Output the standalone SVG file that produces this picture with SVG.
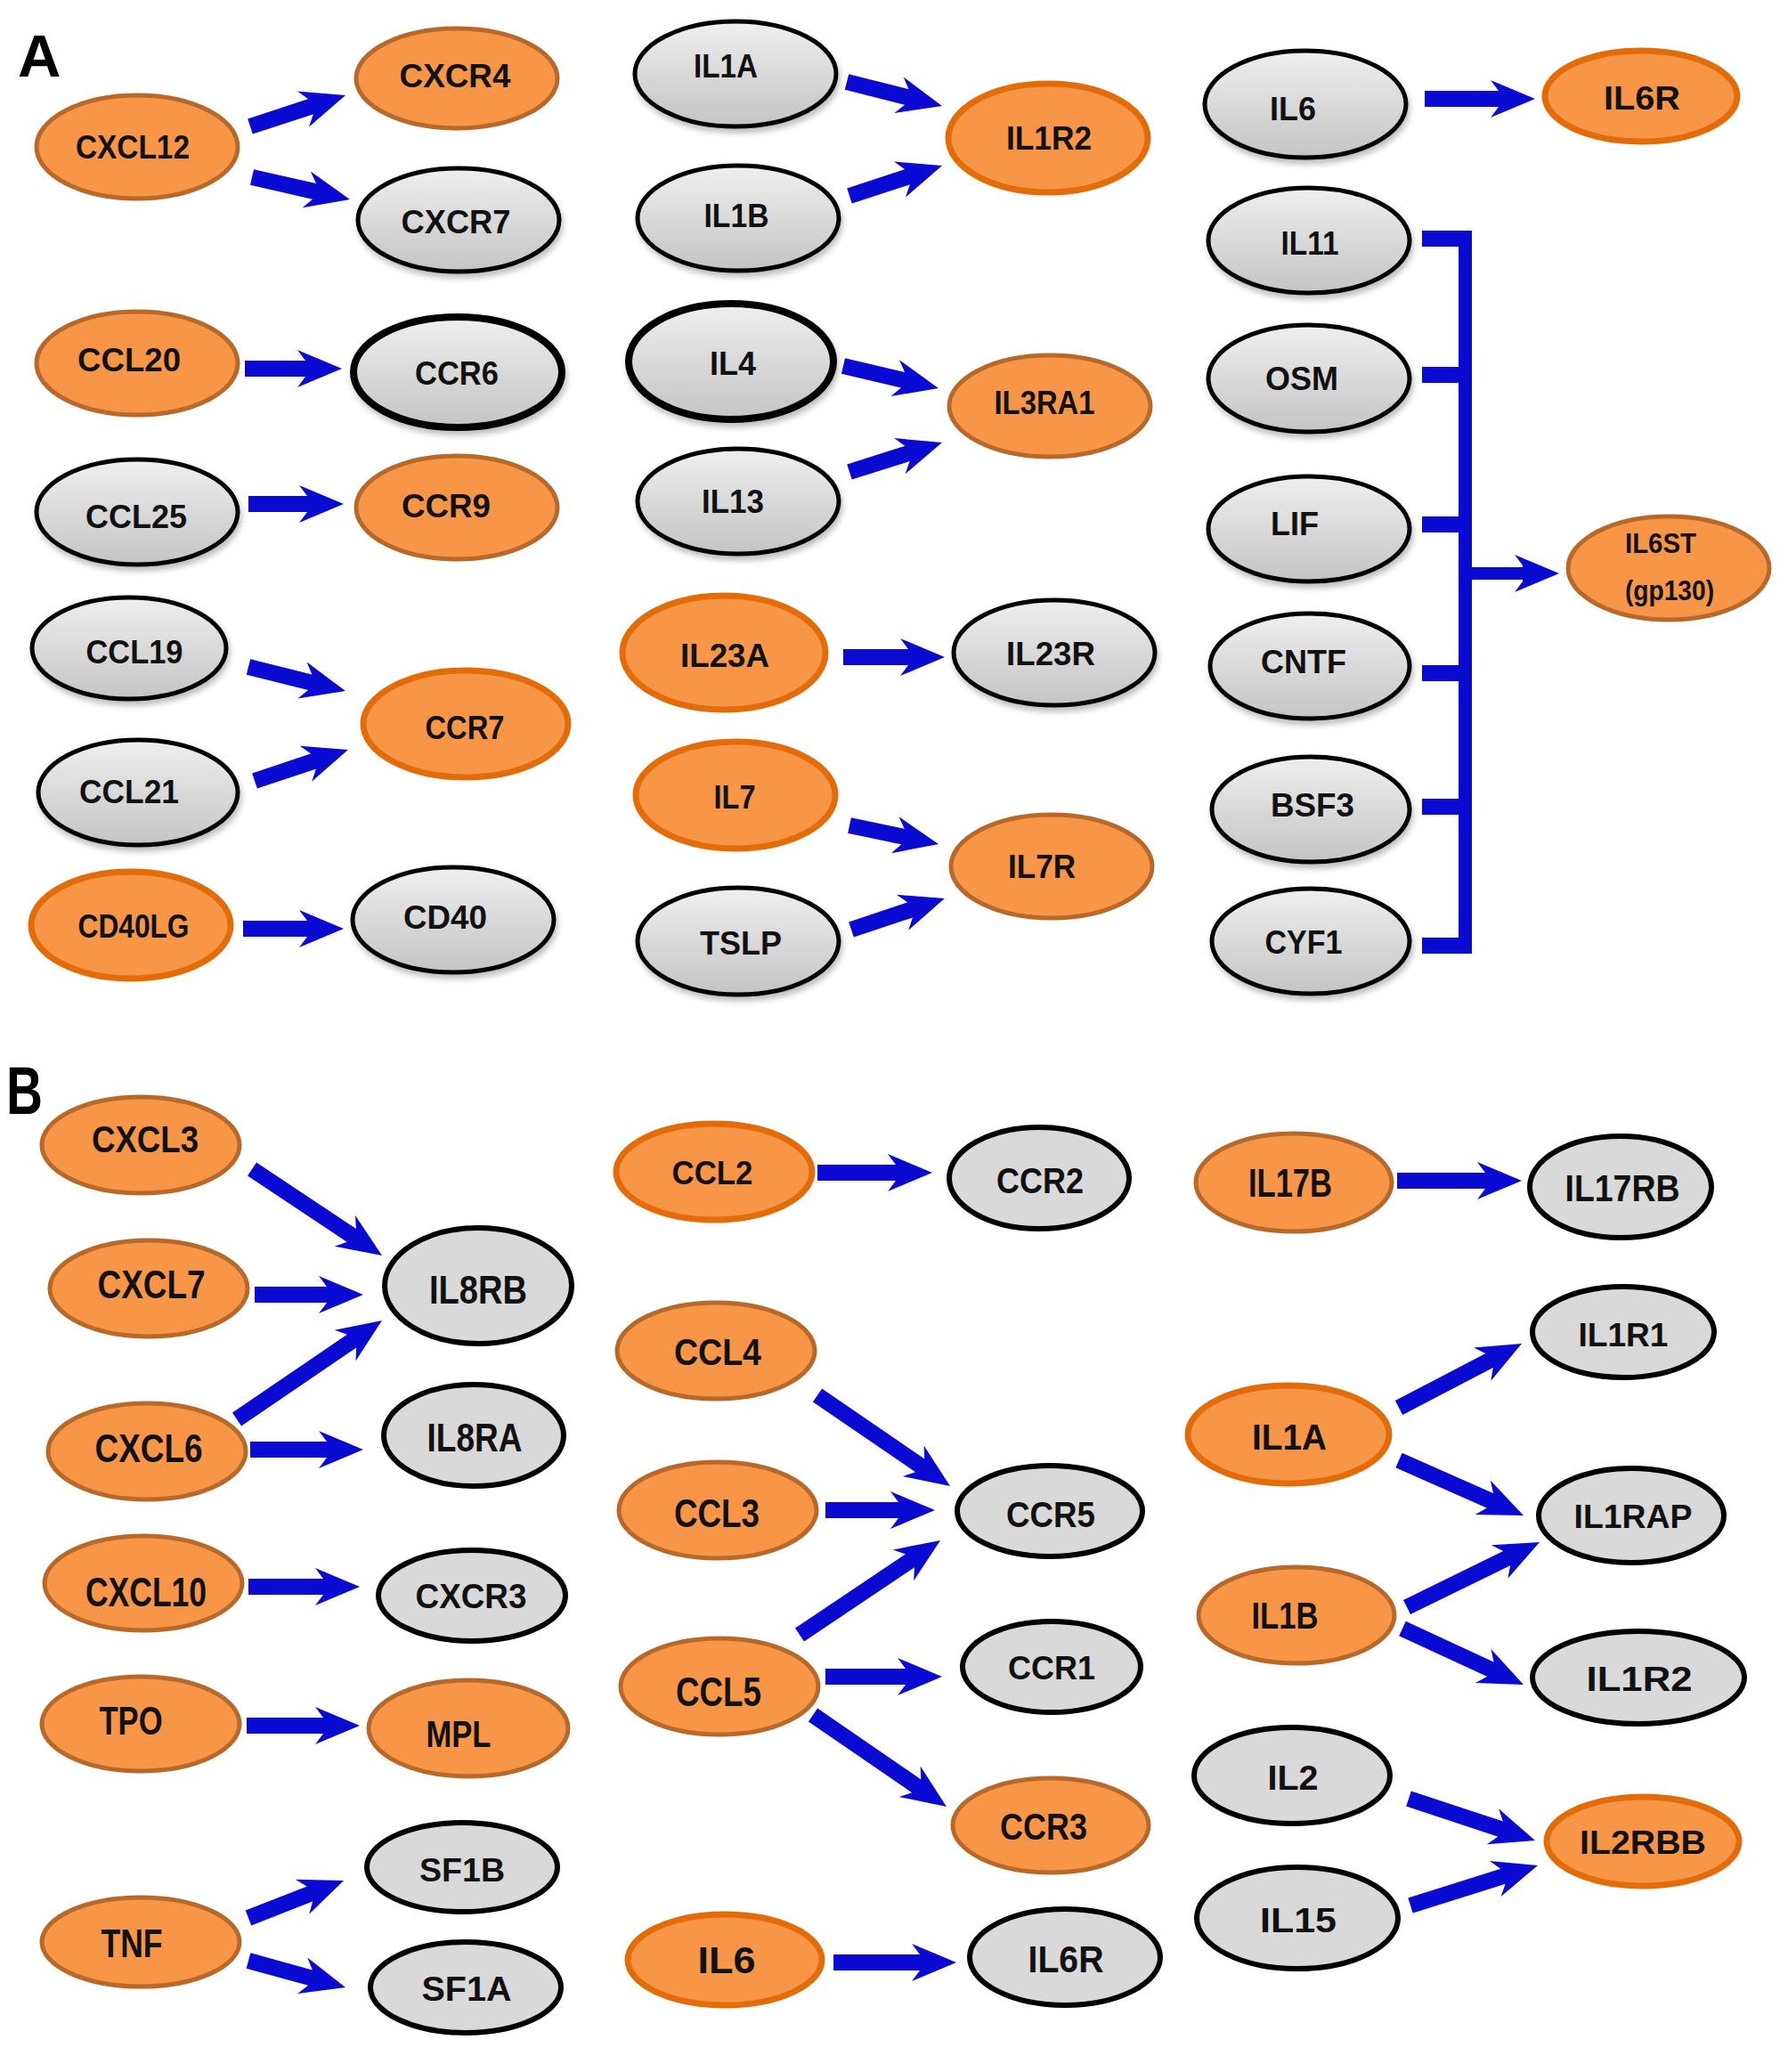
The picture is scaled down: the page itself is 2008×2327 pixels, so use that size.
<svg xmlns="http://www.w3.org/2000/svg" width="2008" height="2327" viewBox="0 0 2008 2327">
<defs>
<linearGradient id="gg" x1="0" y1="0" x2="0" y2="1"><stop offset="0" stop-color="#EFEFEF"/><stop offset="1" stop-color="#C4C4C4"/></linearGradient>
<filter id="sh" x="-20%" y="-20%" width="140%" height="150%"><feDropShadow dx="2" dy="5" stdDeviation="3" flood-color="#000" flood-opacity="0.25"/></filter>
<marker id="ah" markerUnits="userSpaceOnUse" orient="auto" refX="0" refY="0" markerWidth="60" markerHeight="50" viewBox="-12 -25 60 50" overflow="visible"><path d="M-10,-21 L40,0 L-10,21 L-1,9 L-1,-9 Z" fill="#0A0AD2"/></marker>
<style>
.o{fill:#F79646;stroke:#B8692A;stroke-width:5}
.ob{fill:#F79646;stroke:#E36C09;stroke-width:7}
.g{fill:url(#gg);stroke:#000;stroke-width:5;filter:url(#sh)}
.gt{stroke-width:8}
.gb{fill:#D9D9D9;stroke:#000;stroke-width:6}
text{font-family:"Liberation Sans",Arial,sans-serif;font-weight:bold;fill:#111;text-anchor:middle}
.pa{font-size:37px}
.pb{font-size:42px}
.lab{font-family:"Liberation Sans",Arial,sans-serif;font-weight:bold;fill:#000;text-anchor:start}
.a{stroke:#0A0AD2;stroke-width:18;fill:none;marker-end:url(#ah)}
.br{fill:#0A0AD2}
</style>
</defs>
<rect width="2008" height="2327" fill="#fff"/>
<text class="lab" x="20" y="86" font-size="67">A</text>
<text class="lab" x="7" y="1251" font-size="76" textLength="41" lengthAdjust="spacingAndGlyphs">B</text>

<g id="connectors">
<line class="a" x1="281" y1="142" x2="350" y2="119.4"/>
<line class="a" x1="283" y1="199" x2="354" y2="215.1"/>
<line class="a" x1="275" y1="414" x2="344" y2="414"/>
<line class="a" x1="279" y1="566" x2="346" y2="566"/>
<line class="a" x1="279" y1="749" x2="349.2" y2="766.4"/>
<line class="a" x1="286" y1="877" x2="353" y2="854.6"/>
<line class="a" x1="273" y1="1043" x2="346" y2="1043"/>
<line class="a" x1="951" y1="92" x2="1019.2" y2="109.2"/>
<line class="a" x1="954" y1="220" x2="1020" y2="198.4"/>
<line class="a" x1="947" y1="411" x2="1015" y2="426.9"/>
<line class="a" x1="954" y1="530" x2="1019.9" y2="509.1"/>
<line class="a" x1="947" y1="738" x2="1021" y2="738"/>
<line class="a" x1="954" y1="927" x2="1014.9" y2="939.8"/>
<line class="a" x1="956" y1="1044" x2="1023" y2="1021.6"/>
<line class="a" x1="1600" y1="111" x2="1684" y2="111"/>
<g id="bracket">
<rect class="br" x="1638" y="259" width="15" height="812"/>
<rect class="br" x="1597" y="259" width="56" height="18"/>
<rect class="br" x="1597" y="412" width="56" height="18"/>
<rect class="br" x="1597" y="580" width="56" height="18"/>
<rect class="br" x="1597" y="747" width="56" height="18"/>
<rect class="br" x="1597" y="897" width="56" height="18"/>
<rect class="br" x="1597" y="1053" width="56" height="18"/>
<line class="a" style="stroke-width:14" x1="1650" y1="644" x2="1711" y2="644"/>
</g>
<line class="a" x1="283" y1="1313" x2="395.7" y2="1387.9"/>
<line class="a" x1="286" y1="1454" x2="368" y2="1454"/>
<line class="a" x1="266" y1="1594" x2="395.9" y2="1505.5"/>
<line class="a" x1="281" y1="1628" x2="368" y2="1628"/>
<line class="a" x1="279" y1="1782" x2="364" y2="1782"/>
<line class="a" x1="277" y1="1938" x2="364" y2="1938"/>
<line class="a" x1="279" y1="2154" x2="348.8" y2="2126.6"/>
<line class="a" x1="279" y1="2202" x2="349.4" y2="2221.4"/>
<line class="a" x1="918" y1="1317" x2="1007" y2="1317"/>
<line class="a" x1="918" y1="1567" x2="1034" y2="1646.4"/>
<line class="a" x1="927" y1="1696" x2="1010" y2="1696"/>
<line class="a" x1="898" y1="1836" x2="1022.8" y2="1752.3"/>
<line class="a" x1="927" y1="1883" x2="1018" y2="1883"/>
<line class="a" x1="913" y1="1926" x2="1030" y2="2006.4"/>
<line class="a" x1="936" y1="2204" x2="1034" y2="2204"/>
<line class="a" x1="1569" y1="1326" x2="1669" y2="1326"/>
<line class="a" x1="1571" y1="1581" x2="1673.5" y2="1527.5"/>
<line class="a" x1="1571" y1="1640" x2="1674.4" y2="1685.8"/>
<line class="a" x1="1580" y1="1805" x2="1693.1" y2="1749.6"/>
<line class="a" x1="1575" y1="1829" x2="1674.7" y2="1875.2"/>
<line class="a" x1="1582" y1="2020" x2="1686" y2="2054.4"/>
<line class="a" x1="1584" y1="2140" x2="1688.8" y2="2107"/>
</g>

<g id="n-CXCL12"><ellipse class="o" cx="154" cy="165" rx="113" ry="58"/><text class="pa" font-size="35" x="149" y="178" textLength="128" lengthAdjust="spacingAndGlyphs">CXCL12</text></g>
<g id="n-CXCR4"><ellipse class="o" cx="513" cy="88" rx="113" ry="56"/><text class="pa" x="511" y="98" textLength="125" lengthAdjust="spacingAndGlyphs">CXCR4</text></g>
<g id="n-CXCR7"><ellipse class="g" cx="515" cy="247" rx="113" ry="58"/><text class="pa" x="512" y="262" textLength="123" lengthAdjust="spacingAndGlyphs">CXCR7</text></g>
<g id="n-CCL20"><ellipse class="o" cx="154" cy="408" rx="113" ry="58"/><text class="pa" font-size="35" x="145" y="417" textLength="116" lengthAdjust="spacingAndGlyphs">CCL20</text></g>
<g id="n-CCR6"><ellipse class="g gt" cx="514" cy="418" rx="117" ry="62"/><text class="pa" font-size="34" x="513" y="432" textLength="94" lengthAdjust="spacingAndGlyphs">CCR6</text></g>
<g id="n-CCL25"><ellipse class="g" cx="154" cy="575" rx="113" ry="59"/><text class="pa" x="153" y="593" textLength="114" lengthAdjust="spacingAndGlyphs">CCL25</text></g>
<g id="n-CCR9"><ellipse class="o" cx="513" cy="570" rx="113" ry="58"/><text class="pa" font-size="35" x="501" y="581" textLength="100" lengthAdjust="spacingAndGlyphs">CCR9</text></g>
<g id="n-CCL19"><ellipse class="g" cx="145" cy="728" rx="109" ry="57"/><text class="pa" x="151" y="745" textLength="109" lengthAdjust="spacingAndGlyphs">CCL19</text></g>
<g id="n-CCR7"><ellipse class="ob" cx="523" cy="813" rx="115" ry="60"/><text class="pa" x="522" y="830" textLength="89" lengthAdjust="spacingAndGlyphs">CCR7</text></g>
<g id="n-CCL21"><ellipse class="g" cx="155" cy="890" rx="112" ry="59"/><text class="pa" x="145" y="902" textLength="112" lengthAdjust="spacingAndGlyphs">CCL21</text></g>
<g id="n-CD40LG"><ellipse class="ob" cx="147" cy="1039" rx="112" ry="60"/><text class="pa" font-size="36" x="150" y="1053" textLength="125" lengthAdjust="spacingAndGlyphs">CD40LG</text></g>
<g id="n-CD40"><ellipse class="g" cx="509" cy="1033" rx="113" ry="59"/><text class="pa" x="500" y="1043" textLength="94" lengthAdjust="spacingAndGlyphs">CD40</text></g>
<g id="n-IL1A"><ellipse class="g" cx="826" cy="83" rx="113" ry="59"/><text class="pa" font-size="35" x="815" y="87" textLength="72" lengthAdjust="spacingAndGlyphs">IL1A</text></g>
<g id="n-IL1R2"><ellipse class="ob" cx="1177" cy="155" rx="112" ry="61"/><text class="pa" font-size="35" x="1178" y="168" textLength="96" lengthAdjust="spacingAndGlyphs">IL1R2</text></g>
<g id="n-IL1B"><ellipse class="g" cx="829" cy="245" rx="113" ry="59"/><text class="pa" font-size="35" x="827" y="255" textLength="73" lengthAdjust="spacingAndGlyphs">IL1B</text></g>
<g id="n-IL4"><ellipse class="g gt" cx="821" cy="406" rx="115" ry="65"/><text class="pa" x="823" y="421" textLength="52" lengthAdjust="spacingAndGlyphs">IL4</text></g>
<g id="n-IL3RA1"><ellipse class="o" cx="1179" cy="456" rx="113" ry="57"/><text class="pa" font-size="35" x="1173" y="465" textLength="113" lengthAdjust="spacingAndGlyphs">IL3RA1</text></g>
<g id="n-IL13"><ellipse class="g" cx="829" cy="563" rx="113" ry="59"/><text class="pa" x="823" y="576" textLength="70" lengthAdjust="spacingAndGlyphs">IL13</text></g>
<g id="n-IL23A"><ellipse class="ob" cx="813" cy="733" rx="114" ry="64"/><text class="pa" font-size="40" x="814" y="749" textLength="100" lengthAdjust="spacingAndGlyphs">IL23A</text></g>
<g id="n-IL23R"><ellipse class="g" cx="1184" cy="733" rx="113" ry="59"/><text class="pa" x="1180" y="747" textLength="100" lengthAdjust="spacingAndGlyphs">IL23R</text></g>
<g id="n-IL7"><ellipse class="ob" cx="826" cy="893" rx="112" ry="60"/><text class="pa" font-size="40" x="825" y="908" textLength="47" lengthAdjust="spacingAndGlyphs">IL7</text></g>
<g id="n-IL7R"><ellipse class="o" cx="1181" cy="973" rx="113" ry="58"/><text class="pa" font-size="35" x="1170" y="986" textLength="76" lengthAdjust="spacingAndGlyphs">IL7R</text></g>
<g id="n-TSLP"><ellipse class="g" cx="829" cy="1057" rx="113" ry="60"/><text class="pa" font-size="36" x="832" y="1072" textLength="92" lengthAdjust="spacingAndGlyphs">TSLP</text></g>
<g id="n-IL6-A"><ellipse class="g" cx="1466" cy="117" rx="113" ry="60"/><text class="pa" x="1452" y="135" textLength="52" lengthAdjust="spacingAndGlyphs">IL6</text></g>
<g id="n-IL6R-A"><ellipse class="ob" cx="1843" cy="108" rx="108" ry="51"/><text class="pa" x="1844" y="123" textLength="86" lengthAdjust="spacingAndGlyphs">IL6R</text></g>
<g id="n-IL11"><ellipse class="g" cx="1470" cy="270" rx="113" ry="59"/><text class="pa" x="1471" y="286" textLength="65" lengthAdjust="spacingAndGlyphs">IL11</text></g>
<g id="n-OSM"><ellipse class="g" cx="1470" cy="425" rx="113" ry="60"/><text class="pa" x="1462" y="438" textLength="82" lengthAdjust="spacingAndGlyphs">OSM</text></g>
<g id="n-LIF"><ellipse class="g" cx="1470" cy="594" rx="113" ry="59"/><text class="pa" x="1454" y="601" textLength="54" lengthAdjust="spacingAndGlyphs">LIF</text></g>
<g id="n-CNTF"><ellipse class="g" cx="1471" cy="748" rx="112" ry="59"/><text class="pa" x="1464" y="756" textLength="96" lengthAdjust="spacingAndGlyphs">CNTF</text></g>
<g id="n-BSF3"><ellipse class="g" cx="1472" cy="909" rx="111" ry="59"/><text class="pa" x="1474" y="917" textLength="94" lengthAdjust="spacingAndGlyphs">BSF3</text></g>
<g id="n-CYF1"><ellipse class="g" cx="1472" cy="1057" rx="111" ry="59"/><text class="pa" x="1464" y="1071" textLength="87" lengthAdjust="spacingAndGlyphs">CYF1</text></g>
<g id="n-IL6ST"><ellipse class="o" cx="1874" cy="638" rx="113" ry="58"/><text font-size="31" x="1865" y="621" textLength="80" lengthAdjust="spacingAndGlyphs">IL6ST</text><text font-size="31" x="1875" y="674" textLength="100" lengthAdjust="spacingAndGlyphs">(gp130)</text></g>

<g id="n-CXCL3"><ellipse class="o" cx="158" cy="1286" rx="111" ry="54"/><text font-size="43" x="163" y="1294" textLength="120" lengthAdjust="spacingAndGlyphs">CXCL3</text></g>
<g id="n-CXCL7"><ellipse class="o" cx="167" cy="1447" rx="111" ry="54"/><text font-size="45" x="170" y="1458" textLength="121" lengthAdjust="spacingAndGlyphs">CXCL7</text></g>
<g id="n-IL8RB"><ellipse class="gb" cx="537" cy="1444" rx="105" ry="65"/><text font-size="45" x="537" y="1464" textLength="110" lengthAdjust="spacingAndGlyphs">IL8RB</text></g>
<g id="n-CXCL6"><ellipse class="o" cx="165" cy="1630" rx="111" ry="54"/><text font-size="45" x="167" y="1642" textLength="121" lengthAdjust="spacingAndGlyphs">CXCL6</text></g>
<g id="n-IL8RA"><ellipse class="gb" cx="532" cy="1612" rx="101" ry="57"/><text font-size="45" x="533" y="1630" textLength="107" lengthAdjust="spacingAndGlyphs">IL8RA</text></g>
<g id="n-CXCL10"><ellipse class="o" cx="161" cy="1778" rx="111" ry="53"/><text font-size="47" x="164" y="1804" textLength="136" lengthAdjust="spacingAndGlyphs">CXCL10</text></g>
<g id="n-CXCR3"><ellipse class="gb" cx="530" cy="1792" rx="105" ry="51"/><text font-size="39" x="529" y="1806" textLength="125" lengthAdjust="spacingAndGlyphs">CXCR3</text></g>
<g id="n-TPO"><ellipse class="o" cx="158" cy="1936" rx="111" ry="53"/><text font-size="45" x="147" y="1948" textLength="71" lengthAdjust="spacingAndGlyphs">TPO</text></g>
<g id="n-MPL"><ellipse class="o" cx="526" cy="1941" rx="112" ry="54"/><text font-size="42" x="515" y="1962" textLength="73" lengthAdjust="spacingAndGlyphs">MPL</text></g>
<g id="n-SF1B"><ellipse class="gb" cx="519" cy="2097" rx="107" ry="50"/><text font-size="37" x="519" y="2113" textLength="96" lengthAdjust="spacingAndGlyphs">SF1B</text></g>
<g id="n-TNF"><ellipse class="o" cx="158" cy="2181" rx="111" ry="50"/><text font-size="45" x="148" y="2198" textLength="69" lengthAdjust="spacingAndGlyphs">TNF</text></g>
<g id="n-SF1A"><ellipse class="gb" cx="523" cy="2232" rx="107" ry="51"/><text font-size="38" x="524" y="2247" textLength="101" lengthAdjust="spacingAndGlyphs">SF1A</text></g>
<g id="n-CCL2"><ellipse class="ob" cx="802" cy="1316" rx="110" ry="54"/><text font-size="36" x="800" y="1330" textLength="91" lengthAdjust="spacingAndGlyphs">CCL2</text></g>
<g id="n-CCR2"><ellipse class="gb" cx="1167" cy="1323" rx="101" ry="57"/><text font-size="40" x="1168" y="1340" textLength="98" lengthAdjust="spacingAndGlyphs">CCR2</text></g>
<g id="n-CCL4"><ellipse class="o" cx="804" cy="1517" rx="111" ry="54"/><text font-size="43" x="806" y="1533" textLength="98" lengthAdjust="spacingAndGlyphs">CCL4</text></g>
<g id="n-CCL3"><ellipse class="o" cx="806" cy="1696" rx="111" ry="54"/><text font-size="45" x="805" y="1715" textLength="96" lengthAdjust="spacingAndGlyphs">CCL3</text></g>
<g id="n-CCR5"><ellipse class="gb" cx="1179" cy="1697" rx="104" ry="51"/><text font-size="40" x="1180" y="1715" textLength="100" lengthAdjust="spacingAndGlyphs">CCR5</text></g>
<g id="n-CCL5"><ellipse class="o" cx="808" cy="1894" rx="111" ry="54"/><text font-size="46" x="807" y="1916" textLength="96" lengthAdjust="spacingAndGlyphs">CCL5</text></g>
<g id="n-CCR1"><ellipse class="gb" cx="1181" cy="1872" rx="100" ry="51"/><text font-size="37" x="1181" y="1886" textLength="98" lengthAdjust="spacingAndGlyphs">CCR1</text></g>
<g id="n-CCR3"><ellipse class="o" cx="1180" cy="2050" rx="110" ry="53"/><text font-size="43" x="1172" y="2066" textLength="98" lengthAdjust="spacingAndGlyphs">CCR3</text></g>
<g id="n-IL6-B"><ellipse class="ob" cx="814" cy="2201" rx="109" ry="51"/><text font-size="43" x="816" y="2216" textLength="65" lengthAdjust="spacingAndGlyphs">IL6</text></g>
<g id="n-IL6R-B"><ellipse class="gb" cx="1196" cy="2198" rx="107" ry="54"/><text font-size="42" x="1197" y="2215" textLength="85" lengthAdjust="spacingAndGlyphs">IL6R</text></g>
<g id="n-IL17B"><ellipse class="o" cx="1453" cy="1328" rx="110" ry="55"/><text font-size="44" x="1449" y="1344" textLength="94" lengthAdjust="spacingAndGlyphs">IL17B</text></g>
<g id="n-IL17RB"><ellipse class="gb" cx="1820" cy="1333" rx="102" ry="57"/><text font-size="42" x="1822" y="1349" textLength="129" lengthAdjust="spacingAndGlyphs">IL17RB</text></g>
<g id="n-IL1R1"><ellipse class="gb" cx="1823" cy="1496" rx="102" ry="51"/><text font-size="37" x="1823" y="1512" textLength="101" lengthAdjust="spacingAndGlyphs">IL1R1</text></g>
<g id="n-IL1A-B"><ellipse class="ob" cx="1447" cy="1611" rx="113" ry="55"/><text font-size="40" x="1448" y="1628" textLength="84" lengthAdjust="spacingAndGlyphs">IL1A</text></g>
<g id="n-IL1RAP"><ellipse class="gb" cx="1832" cy="1702" rx="104" ry="53"/><text font-size="37" x="1834" y="1716" textLength="133" lengthAdjust="spacingAndGlyphs">IL1RAP</text></g>
<g id="n-IL1B-B"><ellipse class="o" cx="1456" cy="1814" rx="110" ry="54"/><text font-size="43" x="1443" y="1829" textLength="75" lengthAdjust="spacingAndGlyphs">IL1B</text></g>
<g id="n-IL1R2-B"><ellipse class="gb" cx="1840" cy="1884" rx="119" ry="52"/><text font-size="39" x="1841" y="1899" textLength="119" lengthAdjust="spacingAndGlyphs">IL1R2</text></g>
<g id="n-IL2"><ellipse class="gb" cx="1451" cy="1994" rx="110" ry="54"/><text font-size="39" x="1452" y="2010" textLength="57" lengthAdjust="spacingAndGlyphs">IL2</text></g>
<g id="n-IL2RBB"><ellipse class="ob" cx="1845" cy="2068" rx="108" ry="50"/><text font-size="36" x="1845" y="2082" textLength="142" lengthAdjust="spacingAndGlyphs">IL2RBB</text></g>
<g id="n-IL15"><ellipse class="gb" cx="1457" cy="2154" rx="113" ry="57"/><text font-size="39" x="1458" y="2170" textLength="86" lengthAdjust="spacingAndGlyphs">IL15</text></g>
</svg>
